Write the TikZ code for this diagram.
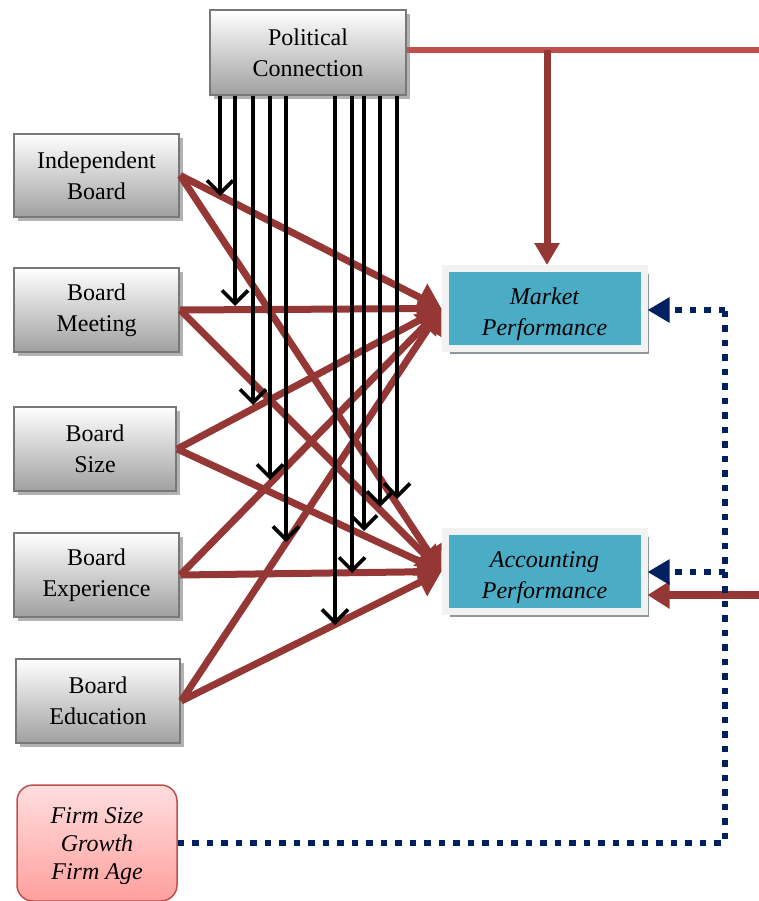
\documentclass[tikz,border=0pt]{standalone}
\usepackage{fontspec}
\setmainfont{Liberation Serif}
\usetikzlibrary{arrows.meta,shadows}
\definecolor{redarr}{RGB}{149,55,53}
\definecolor{redtop}{RGB}{192,80,77}
\definecolor{navy}{RGB}{0,32,96}
\definecolor{tealbox}{RGB}{75,172,198}
\definecolor{framegray}{RGB}{242,242,242}
\definecolor{shadowteal}{RGB}{140,150,155}
\definecolor{boxborder}{RGB}{120,120,120}
\definecolor{pinktop}{RGB}{255,222,222}
\definecolor{pinkbot}{RGB}{255,160,158}
\definecolor{pinkborder}{RGB}{192,80,77}
\begin{document}
\begin{tikzpicture}[x=1pt,y=-1pt,
  txt/.style={font=\fontsize{24}{31}\selectfont, align=center},
  graybox/.style={txt, rectangle, draw=boxborder, line width=2.5pt,
    top color=white, bottom color={rgb,255:red,160;green,160;blue,160},
    drop shadow={shadow xshift=4pt, shadow yshift=-4pt, fill=gray!60, opacity=1},
    inner sep=0pt},
  perfbox/.style={txt, font=\fontsize{24}{31}\selectfont\itshape, rectangle, fill=tealbox, draw=framegray, line width=7pt,
    drop shadow={shadow xshift=5pt, shadow yshift=-5pt, fill=shadowteal, opacity=1},
    minimum width=199pt, minimum height=80pt, inner sep=0pt},
  ctrlbox/.style={txt, font=\fontsize{24}{28}\selectfont\itshape, rectangle, rounded corners=16pt, draw=pinkborder, line width=1.5pt,
    top color=pinktop, bottom color=pinkbot, minimum width=160pt, minimum height=116pt, inner sep=0pt},
  redline/.style={draw=redarr, line width=7pt, -{Triangle[length=24pt,width=30pt]}},
  topred/.style={draw=redtop, line width=6pt},
  modarrow/.style={draw=black, line width=3.6pt, -{Straight Barb[length=13pt,width=26pt,line width=3.6pt]}},
  dotnavy/.style={draw=navy, line width=6.5pt, dash pattern=on 6.5pt off 8pt}
]
\useasboundingbox (0,0) rectangle (759,901);

% nodes
\node[graybox, minimum width=196pt, minimum height=85pt] (pc) at (308,52.5) {Political\\Connection};
\node[graybox, minimum width=165pt, minimum height=83pt] (ib) at (96.5,175.5) {Independent\\Board};
\node[graybox, minimum width=165pt, minimum height=84pt] (bm) at (96.5,310) {Board\\Meeting};
\node[graybox, minimum width=162pt, minimum height=84pt] (bs) at (95,449) {Board\\Size};
\node[graybox, minimum width=165pt, minimum height=84pt] (be) at (96.5,575) {Board\\Experience};
\node[graybox, minimum width=164pt, minimum height=84pt] (bed) at (98,701) {Board\\Education};
\node[ctrlbox] (firm) at (97,843) {\rule{0pt}{23pt}Firm Size\\Growth\\Firm Age};
\node[perfbox] (mp) at (544.5,308.5) {\rule{0pt}{29pt}Market\\Performance};
\node[perfbox] (acc) at (544.5,571.5) {\rule{0pt}{29pt}Accounting\\Performance};

% red arrows from board variables
\foreach \s in {ib,bm,bs,be,bed}{
  \draw[redline] (\s.east) -- (mp.west);
  \draw[redline] (\s.east) -- (acc.west);
}

% moderating arrows from political connection
\foreach \n/\x/\y in {m1/220/196, m2/235/306, m3/253/405, m4/270/480, m5/286/542,
                       m6/335/625, m7/352/573, m8/364/531, m9/380/507, m10/397/499}{
  \coordinate (\n) at (\x,\y);
  \draw[modarrow] (\n |- pc.south) -- (\n);
}

% political connection direct effects
\coordinate (pcend) at (759,50);
\coordinate (br) at (547,50);
\draw[topred] (pc.east |- pcend) -- (pcend);
\draw[draw=redarr, line width=7pt, -{Triangle[length=22pt,width=24pt]}] (br) -- (br |- mp.north);
\coordinate (rin) at (759,595);
\draw[draw=redarr, line width=8pt, -{Triangle[length=22pt,width=26pt]}] (rin) -- (rin -| acc.east);

% control variables (dotted)
\coordinate (dc) at (725,310);
\coordinate (dj) at (725,572);
\draw[dotnavy] (firm.east) -| (dc);
\draw[dotnavy, -{Triangle[length=22pt,width=24pt]}] (dc) -- (dc -| mp.east);
\draw[dotnavy, -{Triangle[length=22pt,width=24pt]}] (dj) -- (dj -| acc.east);
\end{tikzpicture}
\end{document}
